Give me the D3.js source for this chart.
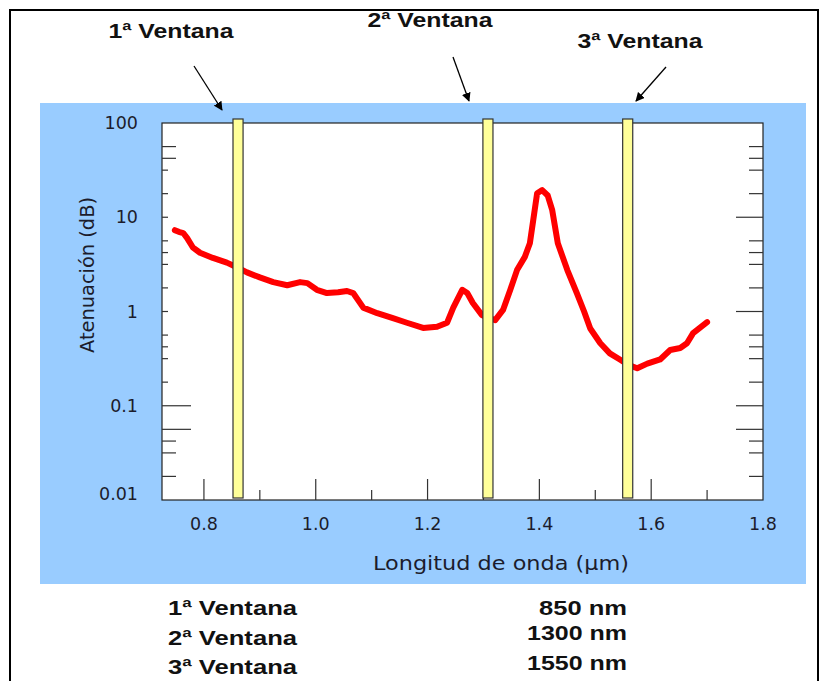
<!DOCTYPE html>
<html>
<head>
<meta charset="utf-8">
<script src="https://cdn.jsdelivr.net/npm/d3@7"></script>
<style>
  body { margin: 0; background: #fff; }
  svg { display: block; }
</style>
</head>
<body>
<div class="chart"></div>
<script>
//-----------------------------------------
// data
//-----------------------------------------
var wavelength = [0.748, 0.755, 0.763, 0.770, 0.780, 0.793, 0.816, 0.841, 0.856, 0.877,
    0.900, 0.924, 0.949, 0.972, 0.985, 1.002, 1.020, 1.040, 1.056, 1.067,
    1.085, 1.110, 1.138, 1.163, 1.192, 1.217, 1.235, 1.246, 1.262, 1.271,
    1.281, 1.297, 1.310, 1.321, 1.335, 1.348, 1.360, 1.374, 1.383, 1.389,
    1.396, 1.405, 1.415, 1.423, 1.433, 1.450, 1.467, 1.480, 1.491, 1.509,
    1.526, 1.544, 1.560, 1.575, 1.593, 1.616, 1.634, 1.652, 1.664, 1.675, 1.700];
var attenuation = [7.3, 7.0, 6.8, 6.0, 4.8, 4.2, 3.7, 3.3, 3.0, 2.6,
    2.3, 2.05, 1.9, 2.05, 2.0, 1.7, 1.57, 1.6, 1.65, 1.57,
    1.1, 0.96, 0.85, 0.76, 0.67, 0.69, 0.76, 1.1, 1.7, 1.57,
    1.23, 0.92, 0.85, 0.81, 1.04, 1.7, 2.75, 3.8, 5.3, 9.3,
    18, 19.4, 17, 11.9, 5.3, 2.75, 1.57, 1.0, 0.66, 0.46,
    0.36, 0.31, 0.27, 0.25, 0.28, 0.31, 0.39, 0.41, 0.46, 0.59, 0.77];

var windowNames = ["1ª Ventana", "2ª Ventana", "3ª Ventana"];
var windowNm = ["850 nm", "1300 nm", "1550 nm"];
var windowBars = [0.861, 1.308, 1.558];   // centres of the yellow bars (µm)
var windowBarWidth = 0.018;

var xTicks = [0.8, 1.0, 1.2, 1.4, 1.6, 1.8];
var xTickLabels = ["0.8", "1.0", "1.2", "1.4", "1.6", "1.8"];
var xMinorTicks = [0.9, 1.1, 1.3, 1.5, 1.7];

var yTicks = [100, 10, 1, 0.1, 0.01];
var yTickLabels = ["100", "10", "1", "0.1", "0.01"];
var yMinorTicks = [56.2, 42.2, 31.6, 17.8, 5.62, 4.22, 3.16, 1.78,
    0.562, 0.422, 0.316, 0.178, 0.0562, 0.0422, 0.0316, 0.0178];

//-----------------------------------------
// layout
//-----------------------------------------
var svgWidth = 827, svgHeight = 681;
var plot = { left: 162, right: 763, top: 123, bottom: 500 };
var axisFont = "'Comic Sans MS', 'DejaVu Sans', sans-serif";
var boldFont = "'Liberation Sans', Arial, sans-serif";
var inkColor = "#1c1c2c";

var svg = d3.select(".chart")
    .append("svg")
    .attr("width", svgWidth)
    .attr("height", svgHeight);

var defs = svg.append("defs");
defs.append("marker")
    .attr("id", "arrow")
    .attr("viewBox", "0 0 10 10")
    .attr("refX", 9)
    .attr("refY", 5)
    .attr("markerWidth", 9)
    .attr("markerHeight", 9)
    .attr("markerUnits", "userSpaceOnUse")
    .attr("orient", "auto")
    .append("path")
    .attr("d", "M0,0 L10,5 L0,10 z")
    .attr("fill", "#000");

// outer frame
svg.append("path")
    .attr("d", "M10,681 L10,10 L818,10 L818,681")
    .attr("fill", "none")
    .attr("stroke", "#000")
    .attr("stroke-width", 2);

// blue panel
svg.append("rect")
    .attr("x", 40).attr("y", 103)
    .attr("width", 766).attr("height", 481)
    .attr("fill", "#99ccff");

// plot area
svg.append("rect")
    .attr("x", plot.left).attr("y", plot.top)
    .attr("width", plot.right - plot.left)
    .attr("height", plot.bottom - plot.top)
    .attr("fill", "#fff")
    .attr("stroke", "#222")
    .attr("stroke-width", 1.2);

// scales
var xScale = d3.scaleLinear()
    .domain([0.725, 1.8])
    .range([plot.left, plot.right]);

var yScale = d3.scaleLog()
    .domain([0.01, 100])
    .range([plot.bottom, plot.top]);

//-----------------------------------------
// ticks
//-----------------------------------------
var tickGroup = svg.append("g").attr("stroke", "#333").attr("stroke-width", 1.2);

function leftLen(v, i, minor) {
    if (!minor) return v === 0.1 ? 29 : 6;
    if (i < 2) return 14;
    if (i < 12) return 6;
    if (i === 12) return 29;
    return 14;
}
function rightLen(v, i, minor) {
    if (!minor) return 27;
    return i === 12 ? 27 : 14;
}

yTicks.slice(1, 4).forEach(function (v, i) {
    var y = yScale(v);
    tickGroup.append("line").attr("x1", plot.left).attr("x2", plot.left + leftLen(v, i, false))
        .attr("y1", y).attr("y2", y);
    tickGroup.append("line").attr("x1", plot.right).attr("x2", plot.right - rightLen(v, i, false))
        .attr("y1", y).attr("y2", y);
});
yMinorTicks.forEach(function (v, i) {
    var y = yScale(v);
    tickGroup.append("line").attr("x1", plot.left).attr("x2", plot.left + leftLen(v, i, true))
        .attr("y1", y).attr("y2", y);
    tickGroup.append("line").attr("x1", plot.right).attr("x2", plot.right - rightLen(v, i, true))
        .attr("y1", y).attr("y2", y);
});
xTicks.slice(0, 5).forEach(function (v) {
    tickGroup.append("line").attr("x1", xScale(v)).attr("x2", xScale(v))
        .attr("y1", plot.bottom).attr("y2", plot.bottom - 21);
});
xMinorTicks.forEach(function (v) {
    tickGroup.append("line").attr("x1", xScale(v)).attr("x2", xScale(v))
        .attr("y1", plot.bottom).attr("y2", plot.bottom - 10);
});

// tick labels
svg.append("g").selectAll("text")
    .data(yTicks)
    .enter().append("text")
    .attr("x", 138)
    .attr("y", function (d, i) { return yScale(d) + (i === 4 ? -6 : 0); })
    .attr("dy", "0.35em")
    .attr("text-anchor", "end")
    .attr("font-family", axisFont)
    .attr("font-size", 17.5)
    .attr("fill", inkColor)
    .text(function (d, i) { return yTickLabels[i]; });

svg.append("g").selectAll("text")
    .data(xTicks)
    .enter().append("text")
    .attr("x", function (d) { return xScale(d); })
    .attr("y", 530)
    .attr("text-anchor", "middle")
    .attr("font-family", axisFont)
    .attr("font-size", 17.5)
    .attr("fill", inkColor)
    .text(function (d, i) { return xTickLabels[i]; });

// axis titles
svg.append("text")
    .attr("transform", "translate(94, 275) rotate(-90)")
    .attr("text-anchor", "middle")
    .attr("font-family", axisFont)
    .attr("font-size", 20)
    .attr("textLength", 156)
    .attr("lengthAdjust", "spacingAndGlyphs")
    .attr("fill", inkColor)
    .text("Atenuación (dB)");

svg.append("text")
    .attr("x", 501)
    .attr("y", 570)
    .attr("text-anchor", "middle")
    .attr("font-family", axisFont)
    .attr("font-size", 20)
    .attr("textLength", 256)
    .attr("lengthAdjust", "spacingAndGlyphs")
    .attr("fill", inkColor)
    .text("Longitud de onda (µm)");

//-----------------------------------------
// curve
//-----------------------------------------
var points = wavelength.map(function (w, i) { return [w, attenuation[i]]; });
var line = d3.line()
    .x(function (d) { return xScale(d[0]); })
    .y(function (d) { return yScale(d[1]); });

svg.append("path")
    .datum(points)
    .attr("d", line)
    .attr("fill", "none")
    .attr("stroke", "#ff0000")
    .attr("stroke-width", 6)
    .attr("stroke-linejoin", "round")
    .attr("stroke-linecap", "round");

// window bars
svg.append("g").selectAll("rect")
    .data(windowBars)
    .enter().append("rect")
    .attr("x", function (d) { return xScale(d - windowBarWidth / 2); })
    .attr("width", function (d) { return xScale(d + windowBarWidth / 2) - xScale(d - windowBarWidth / 2); })
    .attr("y", 119)
    .attr("height", 379)
    .attr("fill", "#ffff99")
    .attr("stroke", "#333")
    .attr("stroke-width", 1.2);

//-----------------------------------------
// annotations
//-----------------------------------------
var labelPos = [[171, 38], [430, 27], [640, 48]];
var arrowPos = [[194, 66, 222, 110], [453, 57, 469, 101], [666, 67, 636, 101]];

windowNames.forEach(function (name, i) {
    svg.append("text")
        .attr("x", labelPos[i][0])
        .attr("y", labelPos[i][1])
        .attr("text-anchor", "middle")
        .attr("font-family", boldFont)
        .attr("font-weight", "bold")
        .attr("font-size", 20)
        .attr("textLength", 125)
        .attr("lengthAdjust", "spacingAndGlyphs")
        .attr("fill", "#111")
        .text(name);

    svg.append("line")
        .attr("x1", arrowPos[i][0]).attr("y1", arrowPos[i][1])
        .attr("x2", arrowPos[i][2]).attr("y2", arrowPos[i][3])
        .attr("stroke", "#000")
        .attr("stroke-width", 1.3)
        .attr("marker-end", "url(#arrow)");
});

// bottom table
var rowY = [615, 645, 674];
var nmY = [615, 640, 670];
windowNames.forEach(function (name, i) {
    svg.append("text")
        .attr("x", 168)
        .attr("y", rowY[i])
        .attr("font-family", boldFont)
        .attr("font-weight", "bold")
        .attr("font-size", 20)
        .attr("textLength", 129)
        .attr("lengthAdjust", "spacingAndGlyphs")
        .attr("fill", "#111")
        .text(name);
    svg.append("text")
        .attr("x", 627)
        .attr("y", nmY[i])
        .attr("text-anchor", "end")
        .attr("font-family", boldFont)
        .attr("font-weight", "bold")
        .attr("font-size", 20)
        .attr("textLength", i === 0 ? 88 : 100)
        .attr("lengthAdjust", "spacingAndGlyphs")
        .attr("fill", "#111")
        .text(windowNm[i]);
});
</script>
</body>
</html>
